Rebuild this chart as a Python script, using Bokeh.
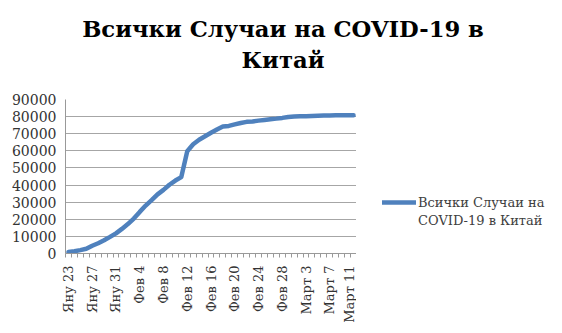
import math
from bokeh.plotting import figure
from bokeh.models import Range1d, FixedTicker, Legend, LegendItem
from bokeh.layouts import column, row
from bokeh.core.properties import value
from bokeh.embed import file_html
from bokeh.resources import INLINE

dates = (["Яну %d" % d for d in range(23, 32)] +
         ["Фев %d" % d for d in range(1, 30)] +
         ["Март %d" % d for d in range(1, 12)])
cases = [830, 1287, 1975, 2744, 4515, 5974, 7711, 9692, 11791,
         14380, 17205, 20438, 24324, 28018, 31161, 34546, 37198, 40171, 42638,
         44653, 59804, 63851, 66492, 68500, 70548, 72436, 74185, 74576, 75465,
         76288, 76936, 77150, 77658, 78064, 78497, 78824, 79251, 79824,
         80026, 80151, 80270, 80386, 80552, 80651, 80695, 80735, 80754, 80778, 80793]
y_ticks = list(range(0, 90001, 10000))
series_name = "Всички Случаи на COVID-19 в Китай"
title_lines = ["Всички Случаи на COVID-19 в", "Китай"]

W, H = 562, 333
TITLE_H = 91
MAIN_W = 356
BODY_H = H - TITLE_H
LINE_COLOR = "#4F81BD"
SERIF = "DejaVu Serif"

# ---------- title strip ----------
tf = figure(width=W, height=TITLE_H, output_backend="svg", toolbar_location=None,
            x_range=Range1d(0, W), y_range=Range1d(TITLE_H, 0),
            x_axis_type=None, y_axis_type=None,
            min_border_left=0, min_border_right=0, min_border_top=0, min_border_bottom=0)
tf.outline_line_color = None
tf.grid.visible = False
tf.text(x=[282.5, 282.5], y=[28, 59], text=title_lines, text_align="center",
        text_baseline="alphabetic", text_font=value(SERIF), text_font_style="bold",
        text_font_size="22.7px", text_color="black")

# ---------- main chart ----------
xs = list(range(len(cases)))
p = figure(width=MAIN_W, height=BODY_H, output_backend="svg", toolbar_location=None,
           x_range=Range1d(-0.5, len(cases) - 0.5), y_range=Range1d(0, 90000),
           min_border_left=65, min_border_right=0,
           min_border_top=8, min_border_bottom=80)
p.outline_line_color = None

r = p.line(xs, cases, line_color=LINE_COLOR, line_width=4.5, line_join="round", line_cap="round")

lab_idx = list(range(0, len(dates), 4))
p.xaxis.ticker = FixedTicker(ticks=lab_idx, minor_ticks=[i - 0.5 for i in range(len(dates) + 1)])
p.xaxis.major_label_overrides = {i: dates[i] for i in lab_idx}
p.xaxis.major_label_orientation = math.pi / 2
p.xaxis.major_tick_out = 0
p.xaxis.major_tick_in = 0
p.xaxis.minor_tick_out = 4
p.xaxis.minor_tick_in = 0
p.xaxis.minor_tick_line_color = "#999999"
p.xaxis.axis_line_color = "#999999"
p.xaxis.major_label_standoff = 8
p.xaxis.major_label_text_font = SERIF
p.xaxis.major_label_text_font_size = "13px"
p.xaxis.major_label_text_color = "#333333"

p.yaxis.ticker = FixedTicker(ticks=y_ticks)
p.yaxis.major_tick_out = 0
p.yaxis.major_tick_in = 0
p.yaxis.minor_tick_out = 0
p.yaxis.minor_tick_in = 0
p.yaxis.axis_line_color = "#999999"
p.yaxis.major_label_standoff = 9
p.yaxis.major_label_text_font = SERIF
p.yaxis.major_label_text_font_size = "14px"
p.yaxis.major_label_text_color = "#333333"

p.xgrid.grid_line_color = None
p.ygrid.grid_line_color = "#a6a6a6"
p.ygrid.ticker = FixedTicker(ticks=y_ticks)

# ---------- legend panel ----------
LEG_W = W - MAIN_W
lf = figure(width=LEG_W, height=BODY_H, output_backend="svg", toolbar_location=None,
            x_range=Range1d(0, LEG_W), y_range=Range1d(0, BODY_H),
            x_axis_type=None, y_axis_type=None,
            min_border_left=0, min_border_right=0, min_border_top=0, min_border_bottom=0)
lf.outline_line_color = None
lf.grid.visible = False
# legend-only renderers: their points lie outside the visible range
sample = lf.line([-50, -40], [-50, -50], line_color=LINE_COLOR, line_width=4.5, line_cap="round")
blank = lf.line([-50, -40], [-50, -50], line_alpha=0)
words = series_name.split(" ")
line1 = " ".join(words[:3])
line2 = " ".join(words[3:])
leg = Legend(items=[LegendItem(label=line1, renderers=[sample]),
                    LegendItem(label=line2, renderers=[blank])],
             location=(26, 24), border_line_color=None,
             background_fill_alpha=0, padding=0, margin=0, spacing=0, glyph_width=34,
             glyph_height=12, label_standoff=2, label_height=18,
             label_text_font=SERIF, label_text_font_size="13px",
             label_text_color="#404040")
lf.add_layout(leg)

layout = column(tf, row(p, lf, spacing=0), spacing=0)
open("out.html", "w").write(file_html(layout, INLINE))
